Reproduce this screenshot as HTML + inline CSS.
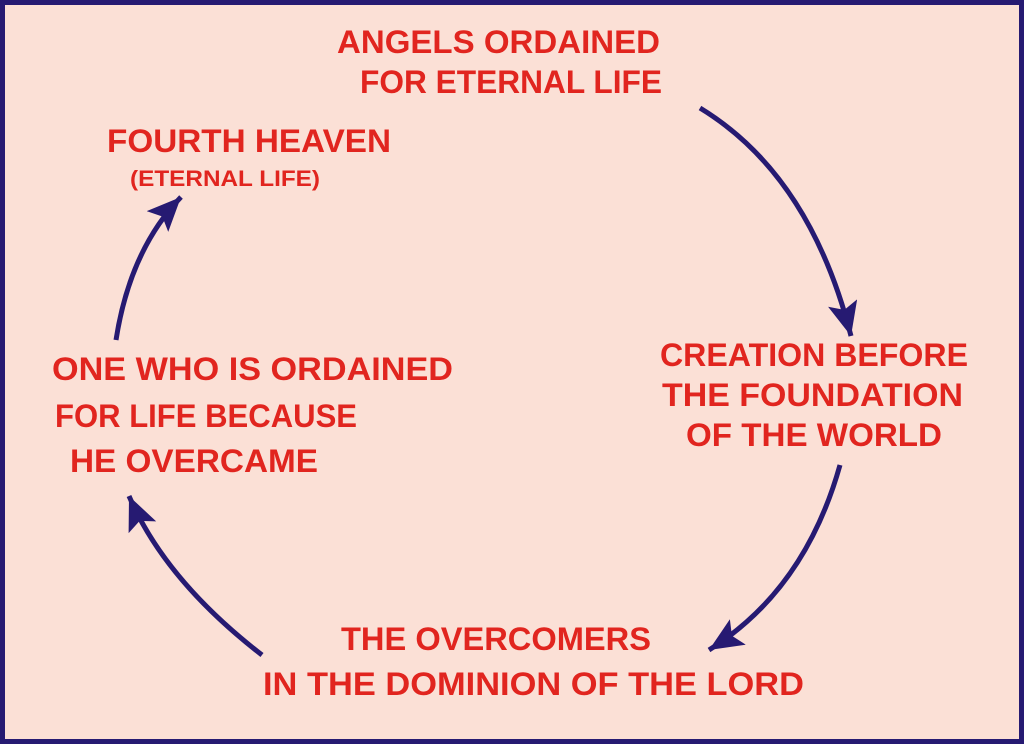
<!DOCTYPE html>
<html><head><style>
html,body{margin:0;padding:0;width:1024px;height:744px;overflow:hidden;background:#fbe0d6}
svg{display:block}
text{font-family:"Liberation Sans",sans-serif;font-weight:bold;fill:#e1251f}
</style></head><body>
<svg width="1024" height="744" viewBox="0 0 1024 744">
<defs>
<marker id="a" markerUnits="userSpaceOnUse" markerWidth="40" markerHeight="40" refX="34" refY="15" orient="auto">
<path d="M0,0 L34,15 L0,30 L7,15 Z" fill="#261a72"/>
</marker>
</defs>
<rect x="2.5" y="2.5" width="1019" height="739" fill="#fbe0d6" stroke="#261a72" stroke-width="5"/>
<g fill="none" stroke="#261a72" stroke-width="5">
<path d="M700,108 Q810,175 851,336" marker-end="url(#a)"/>
<path d="M840,465 Q805,590 709,650" marker-end="url(#a)"/>
<path d="M262,655 Q165,580 129,496" marker-end="url(#a)"/>
<path d="M116,340 Q130,250 181,197" marker-end="url(#a)"/>
</g>
<g font-size="32">
<text x="337" y="53" textLength="323" lengthAdjust="spacingAndGlyphs">ANGELS ORDAINED</text>
<text x="360" y="93" textLength="302" lengthAdjust="spacingAndGlyphs">FOR ETERNAL LIFE</text>
<text x="107" y="152" textLength="284" lengthAdjust="spacingAndGlyphs">FOURTH HEAVEN</text>
<text x="130" y="186" font-size="22" textLength="190" lengthAdjust="spacingAndGlyphs">(ETERNAL LIFE)</text>
<text x="52" y="380" textLength="401" lengthAdjust="spacingAndGlyphs">ONE WHO IS ORDAINED</text>
<text x="55" y="427" textLength="302" lengthAdjust="spacingAndGlyphs">FOR LIFE BECAUSE</text>
<text x="70" y="472" textLength="248" lengthAdjust="spacingAndGlyphs">HE OVERCAME</text>
<text x="660" y="366" textLength="308" lengthAdjust="spacingAndGlyphs">CREATION BEFORE</text>
<text x="662" y="406" textLength="301" lengthAdjust="spacingAndGlyphs">THE FOUNDATION</text>
<text x="686" y="446" textLength="256" lengthAdjust="spacingAndGlyphs">OF THE WORLD</text>
<text x="341" y="650" textLength="310" lengthAdjust="spacingAndGlyphs">THE OVERCOMERS</text>
<text x="263" y="695" textLength="541" lengthAdjust="spacingAndGlyphs">IN THE DOMINION OF THE LORD</text>
</g>
</svg>
</body></html>
